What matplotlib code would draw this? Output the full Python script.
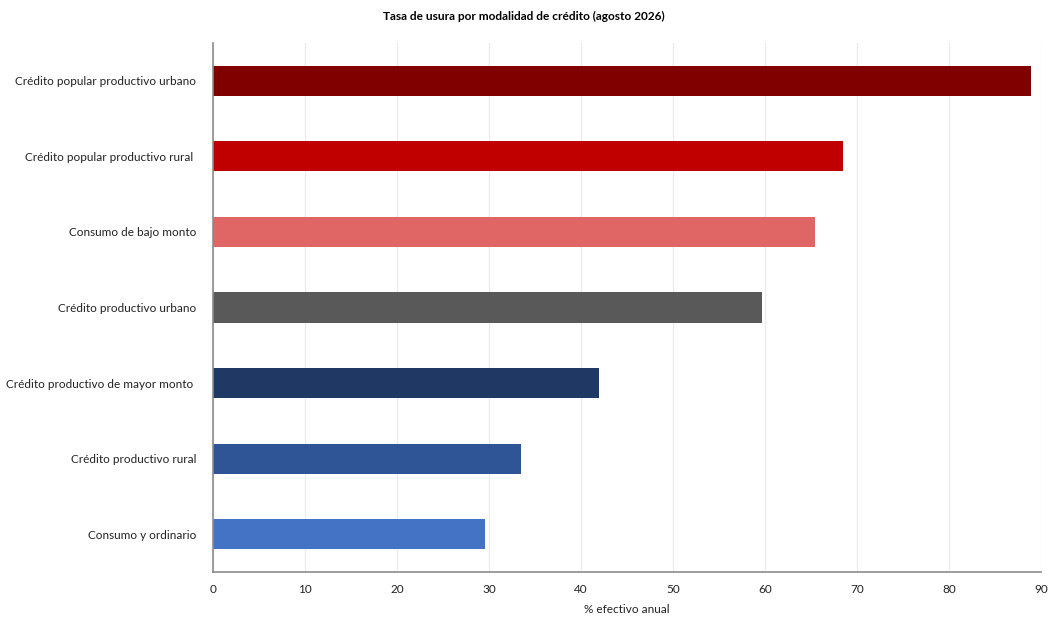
import matplotlib
matplotlib.use("Agg")
import matplotlib.pyplot as plt

plt.rcParams['font.family'] = ['Lato', 'DejaVu Sans']

categories = [
    "Crédito popular productivo urbano",
    "Crédito popular productivo rural ",
    "Consumo de bajo monto",
    "Crédito productivo urbano",
    "Crédito productivo de mayor monto ",
    "Crédito productivo rural",
    "Consumo y ordinario",
]
values = [88.9, 68.5, 65.4, 59.7, 42.0, 33.5, 29.6]
colors = ["#800000", "#C00000", "#E06666", "#595959", "#203864", "#2F5597", "#4472C4"]

fig = plt.figure(figsize=(10.48, 6.33), dpi=100)
ax = fig.add_axes([0.2032, 0.0964, 0.7901, 0.8357])

pos = list(range(len(categories)))[::-1]
ax.barh(pos, values, height=0.4, color=colors, zorder=2)

ax.set_xlim(0, 90)
ax.set_ylim(-0.5, len(categories) - 0.5)
ax.set_xticks(range(0, 91, 10))
ax.set_yticks(pos)
ax.set_yticklabels(categories)
ax.tick_params(axis='both', length=0, labelsize=8.5, colors="#222222")
ax.tick_params(axis='y', pad=12)
ax.tick_params(axis='x', pad=9)
ax.grid(axis='x', color="#EBEBEB", linewidth=0.9, zorder=0)

for side in ['top', 'right']:
    ax.spines[side].set_visible(False)
for side in ['left', 'bottom']:
    ax.spines[side].set_color("#8C8C8C")
    ax.spines[side].set_linewidth(1.2)

ax.set_xlabel("% efectivo anual", fontsize=8.5, color="#222222", labelpad=6)
fig.suptitle("Tasa de usura por modalidad de crédito (agosto 2026)", fontsize=8.6,
             fontweight='bold', y=0.982, x=0.5)

fig.savefig("out.png", dpi=100)
plt.close(fig)
